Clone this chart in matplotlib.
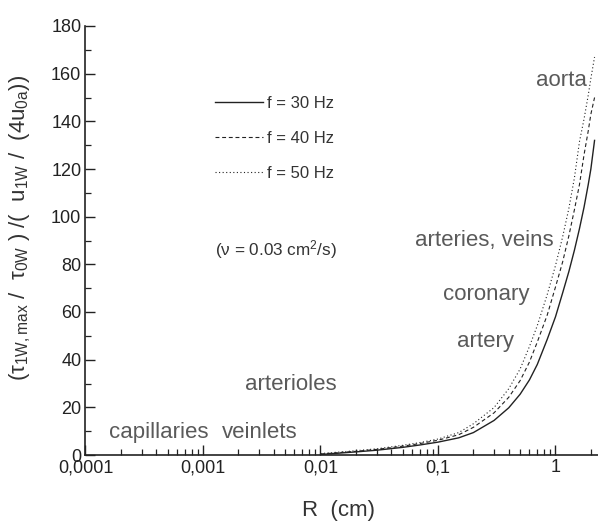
import matplotlib
matplotlib.use("Agg")
import matplotlib.pyplot as plt
from matplotlib.ticker import FixedLocator, MultipleLocator, LogLocator, NullFormatter

plt.rcParams['font.family'] = ['Liberation Sans', 'DejaVu Sans']
plt.rcParams['mathtext.fontset'] = 'custom'
plt.rcParams['mathtext.rm'] = 'Liberation Sans'
plt.rcParams['mathtext.it'] = 'Liberation Sans'
plt.rcParams['mathtext.bf'] = 'Liberation Sans'

# ---- data ----
R = [0.01, 0.02, 0.03, 0.05, 0.07, 0.1, 0.15, 0.2, 0.3, 0.4, 0.5, 0.6, 0.7, 0.85,
     1.0, 1.15, 1.3, 1.45, 1.6, 1.75, 1.9, 2.0, 2.15]
f30 = [0.2, 1.3, 2.0, 3.2, 4.2, 5.4, 7.2, 9.4, 14.5, 19.8, 25.5, 31.5, 38, 48.5,
       58, 68, 77, 86, 95, 104, 113.5, 120, 132]
f40 = [0.4, 1.55, 2.35, 3.7, 4.8, 6.2, 8.5, 11.6, 17.7, 24.2, 31.2, 39, 47.4, 58.7,
       70.5, 81, 92, 103, 113.5, 126, 136, 143, 150]
f50 = [0.6, 1.8, 2.6, 4.05, 5.2, 6.7, 9.4, 13.1, 19.9, 27.8, 36.1, 45.5, 54.3, 67.3,
       79.5, 91.5, 103.5, 116.4, 131.5, 141, 151, 158, 167]
series_labels = ['f = 30 Hz', 'f = 40 Hz', 'f = 50 Hz']

x_ticks = [0.0001, 0.001, 0.01, 0.1, 1]
x_ticklabels = ['0,0001', '0,001', '0,01', '0,1', '1']
y_ticks = [0, 20, 40, 60, 80, 100, 120, 140, 160, 180]

annotations = [
    ('capillaries', 0.0001585, 7.1),
    ('veinlets', 0.00145, 7.1),
    ('arterioles', 0.00228, 27.3),
    ('arteries, veins', 0.0634, 87.7),
    ('coronary', 0.1106, 65),
    ('artery', 0.1454, 45.3),
    ('aorta', 0.683, 154.8),
]

fig = plt.figure(figsize=(5.98, 5.30), dpi=100)
ax = fig.add_axes([85.5/598, 1-455/530, 1-85.5/598, (455-26)/530])

line_col = '#222222'
l1, = ax.plot(R, f30, color=line_col, lw=1.0, linestyle='-')
l2, = ax.plot(R, f40, color=line_col, lw=0.8, linestyle=(0, (3.5, 2.5)))
l3, = ax.plot(R, f50, color=line_col, lw=0.8, linestyle=(0, (1, 2.2)))

ax.set_xscale('log')
ax.set_xlim(1e-4, 2.30)
ax.set_ylim(0, 180)

ax.xaxis.set_major_locator(FixedLocator(x_ticks))
ax.set_xticklabels(x_ticklabels)
ax.xaxis.set_minor_locator(LogLocator(base=10, subs=range(2, 10)))
ax.xaxis.set_minor_formatter(NullFormatter())
ax.yaxis.set_major_locator(FixedLocator(y_ticks))
ax.yaxis.set_minor_locator(MultipleLocator(10))

for s in ['top', 'right']:
    ax.spines[s].set_visible(False)
for s in ['left', 'bottom']:
    ax.spines[s].set_linewidth(1.2)
    ax.spines[s].set_color('#222222')

tick_col = '#222222'
ax.tick_params(which='major', direction='in', length=7, width=1.0, color='#222222',
               labelsize=13, labelcolor=tick_col, pad=3)
ax.tick_params(which='minor', direction='in', length=4, width=0.9, color='#222222')

ax.set_xlabel('R  (cm)', fontsize=16, color='#333333')
ax.xaxis.set_label_coords(0.4927, -0.1305)
ax.xaxis.label.set_va('center')
ax.set_ylabel(r'$(\tau_{1W,max}\ /\ \ \tau_{0W}\ )\ /(\ \ u_{1W}\ /\ \ (4u_{0a}))$',
              fontsize=16, color='#333333')
ax.yaxis.set_label_coords(-0.128, 0.529)
ax.yaxis.label.set_va('center')

txt_col = '#5a5a5a'
for text, xv, yv in annotations:
    ax.text(xv, yv, text, fontsize=16, color=txt_col, ha='left', va='baseline')

ax.text(0.00127, 86, r'($\nu$ = 0.03 cm$^2$/s)', fontsize=12.3, color='#333333',
        ha='left', va='center')

leg = fig.legend([l1, l2, l3], series_labels, loc='upper left',
                 bbox_to_anchor=(215/598, 1-96/530), frameon=False,
                 fontsize=12, handlelength=2.87, handletextpad=0.25,
                 labelspacing=1.19, borderpad=0, borderaxespad=0)
for t in leg.get_texts():
    t.set_color('#333333')

fig.savefig('out.png', dpi=100)
